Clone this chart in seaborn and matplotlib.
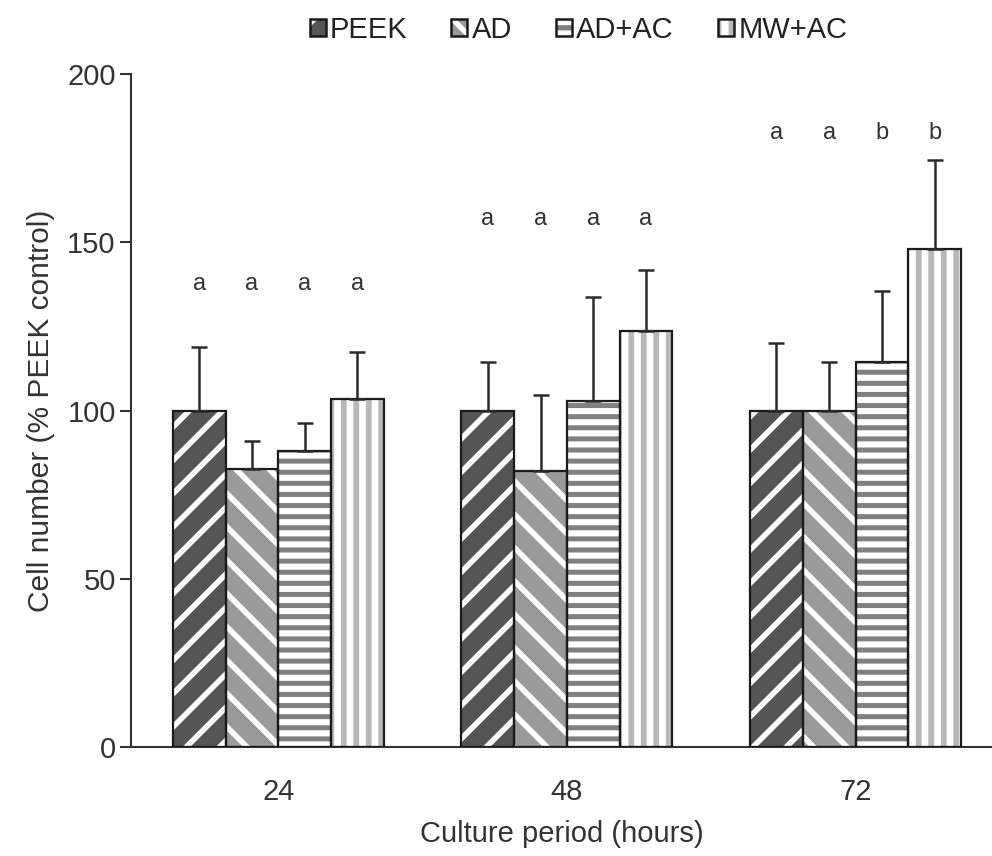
import numpy as np
import pandas as pd
import matplotlib
matplotlib.use("Agg")
import matplotlib.pyplot as plt
import matplotlib.hatch as mhatch
from matplotlib.patches import Patch
from matplotlib.legend_handler import HandlerTuple
import seaborn as sns

periods = ["24", "48", "72"]
groups = ["PEEK", "AD", "AD+AC", "MW+AC"]
means = {
    "PEEK":  [100.0, 100.0, 100.0],
    "AD":    [82.6, 82.0, 100.0],
    "AD+AC": [88.0, 102.8, 114.4],
    "MW+AC": [103.4, 123.6, 148.0],
}
errors = {
    "PEEK":  [19.0, 14.4, 20.0],
    "AD":    [8.3, 22.6, 14.4],
    "AD+AC": [8.3, 31.0, 21.0],
    "MW+AC": [14.0, 18.2, 26.4],
}
letters = {
    "24": ["a", "a", "a", "a"],
    "48": ["a", "a", "a", "a"],
    "72": ["a", "a", "b", "b"],
}
letter_y = [137.5, 157.0, 182.5]

fills = {"PEEK": "#555555", "AD": "#9a9a9a", "AD+AC": "#ffffff", "MW+AC": "#ffffff"}
hatch_colors = {"PEEK": "#ffffff", "AD": "#ffffff", "AD+AC": "#808080", "MW+AC": "#b8b8b8"}
hatches = {"PEEK": "/", "AD": "\\", "AD+AC": "-", "MW+AC": "|"}
hatch_lw = {"PEEK": 4.0, "AD": 4.0, "AD+AC": 3.6, "MW+AC": 4.2}

# stripe spacing tweaks (lines per hatch unit) for the horizontal / vertical patterns
def _h_init(self, hatch, density):
    self.num_lines = int((hatch.count('-') + hatch.count('+')) * density * 1.5)
    self.num_vertices = self.num_lines * 2

def _v_init(self, hatch, density):
    self.num_lines = int((hatch.count('|') + hatch.count('+')) * density * 4 / 3)
    self.num_vertices = self.num_lines * 2

mhatch.HorizontalHatch.__init__ = _h_init
mhatch.VerticalHatch.__init__ = _v_init

rows = []
for g in groups:
    for p, v in zip(periods, means[g]):
        rows.append({"period": p, "group": g, "value": v})
df = pd.DataFrame(rows)

sns.set_style("ticks")
plt.rcParams["font.family"] = ["Liberation Sans", "DejaVu Sans"]
plt.rcParams["hatch.linewidth"] = 3.8

fig = plt.figure(figsize=(9.92, 8.56), dpi=100)
ax = fig.add_axes([0.132, 0.127, 0.868, 0.7866])

sns.barplot(data=df, x="period", y="value", hue="group", order=periods,
            hue_order=groups, palette=fills, errorbar=None, width=0.731,
            linewidth=0, legend=False, ax=ax, saturation=1)
for g, cont in zip(groups, ax.containers[:4]):
    for bar in cont:
        bar.set_hatch(hatches[g])
        bar.set_edgecolor(hatch_colors[g])
        bar.set_linewidth(0)
        if hasattr(bar, "set_hatch_linewidth"):
            bar.set_hatch_linewidth(hatch_lw[g])

sns.barplot(data=df, x="period", y="value", hue="group", order=periods,
            hue_order=groups, palette=fills, errorbar=None, width=0.731,
            fill=False, legend=False, ax=ax)
for cont in ax.containers[4:]:
    for bar in cont:
        bar.set_facecolor("none")
        bar.set_edgecolor("#1a1a1a")
        bar.set_linewidth(1.6)
        bar.set_zorder(3)

for gi, (g, cont) in enumerate(zip(groups, ax.containers[:4])):
    xs = [b.get_x() + b.get_width() / 2 for b in cont]
    ys = [b.get_height() for b in cont]
    ax.errorbar(xs, ys, yerr=[np.zeros(len(ys)), errors[g]], fmt="none",
                ecolor="#2a2a2a", elinewidth=1.8, capsize=6, capthick=1.8, zorder=4)
    for pi, x in enumerate(xs):
        ax.text(x, letter_y[pi], letters[periods[pi]][gi], ha="center", va="center",
                fontsize=17, color="#333333")

ax.set_ylim(0, 200)
ax.set_xlim(-0.511, 2.473)
ax.set_yticks([0, 50, 100, 150, 200])
ax.tick_params(axis="y", direction="out", length=8, width=1.5, labelsize=21,
               colors="#333333", pad=3)
ax.tick_params(axis="x", length=0, labelsize=21, colors="#333333", pad=22)
for s in ["top", "right"]:
    ax.spines[s].set_visible(False)
for s in ["left", "bottom"]:
    ax.spines[s].set_linewidth(1.5)
    ax.spines[s].set_color("#333333")
ax.set_xlabel("Culture period (hours)", fontsize=21, color="#333333", labelpad=10)
ax.set_ylabel("Cell number (% PEEK control)", fontsize=21.5, color="#333333", labelpad=9)

handles = []
for g in groups:
    h1 = Patch(facecolor=fills[g], edgecolor=hatch_colors[g], hatch=hatches[g], linewidth=0)
    h2 = Patch(facecolor="none", edgecolor="#1a1a1a", linewidth=1.8)
    handles.append((h1, h2))
fig.legend(handles, groups, loc="upper center", bbox_to_anchor=(0.583, 1.012), ncol=4,
           frameon=False, fontsize=21, handlelength=0.55, handleheight=0.55,
           handletextpad=0.15, columnspacing=1.5,
           handler_map={tuple: HandlerTuple(ndivide=1, pad=0)},
           labelcolor="#222222")

fig.savefig("out.png", dpi=100)
